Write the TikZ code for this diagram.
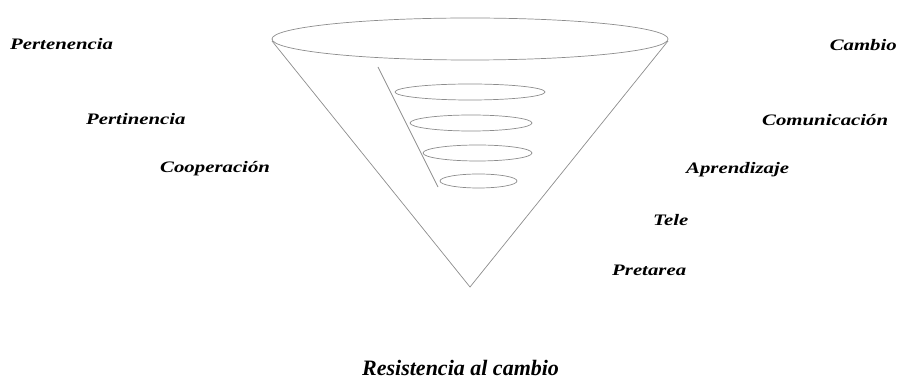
\documentclass[tikz,border=0pt]{standalone}
\usepackage{fontspec}
\setmainfont{Liberation Serif}
\newfontfamily\labfont[FakeStretch=1.3]{Liberation Serif}
\begin{document}
\begin{tikzpicture}[x=1pt,y=-1pt,
  cone/.style={draw=black!45,line width=0.7pt},
  lab/.style={font=\labfont\fontsize{16}{18}\selectfont\bfseries\itshape,inner sep=0pt,anchor=west},
  bottomlab/.style={font=\fontsize{22}{24}\selectfont\bfseries\itshape,inner sep=0pt}]
\useasboundingbox (0,0) rectangle (907,379);
% cone
\coordinate (apex) at (470,287);
\coordinate (tl) at (272,41);
\coordinate (tr) at (668,41);
\draw[cone] (470,39) ellipse [x radius=198, y radius=21];
\draw[cone] (tl) -- (apex) -- (tr);
% inner spiral
\coordinate (s1) at (378,67);
\coordinate (s2) at (438,187);
\draw[cone] (s1) -- (s2);
\draw[cone] (470,92) ellipse [x radius=75, y radius=8];
\draw[cone] (471,123) ellipse [x radius=61, y radius=8];
\draw[cone] (477.5,153) ellipse [x radius=54.5, y radius=8];
\draw[cone] (478.5,181) ellipse [x radius=38.5, y radius=7];
% labels
\node[lab] (pertenencia) at (10,44) {Pertenencia};
\node[lab] (pertinencia) at (86,119) {Pertinencia};
\node[lab] (cooperacion) at (160,169) {Cooperación};
\node[lab,anchor=east] (cambio) at (897,45) {Cambio};
\node[lab] (comunicacion) at (762,120) {Comunicación};
\node[lab] (aprendizaje) at (686,170) {Aprendizaje};
\node[lab] (tele) at (653,220) {Tele};
\node[lab] (pretarea) at (612,270) {Pretarea};
\node[bottomlab,anchor=west] (resistencia) at (362,368) {Resistencia al cambio};
\end{tikzpicture}
\end{document}
